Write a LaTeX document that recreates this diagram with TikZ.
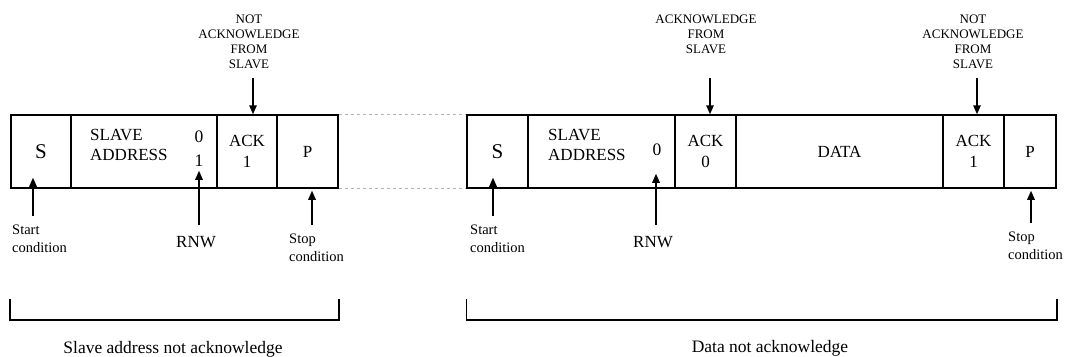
\documentclass[tikz,border=0pt]{standalone}
\usepackage{fontspec}
\setmainfont{Liberation Serif}
\usetikzlibrary{arrows.meta}

\begin{document}
\begin{tikzpicture}[x=1pt,y=-1pt,
field/.style={shape=rectangle,draw=black,line width=1.5pt,minimum height=73pt,inner sep=0,
    align=center,font=\fontsize{17}{21}\selectfont},
bigS/.style={font=\fontsize{21}{24}\selectfont},
addrText/.style={anchor=west,inner sep=0,align=left,font=\fontsize{17}{20}\selectfont},
bitText/.style={inner sep=0,align=center,font=\fontsize{17.5}{24}\selectfont},
topLbl/.style={anchor=north,inner sep=0,align=center,font=\fontsize{13}{15}\selectfont},
condLbl/.style={anchor=north west,inner sep=0,align=left,font=\fontsize{14.5}{18}\selectfont},
rnwLbl/.style={inner sep=0,font=\fontsize{17}{20}\selectfont},
capLbl/.style={anchor=base,inner sep=0,font=\fontsize{17.5}{20}\selectfont},
myarrow/.style={-{Triangle[length=9pt,width=7.5pt]},line width=1.5pt},
spanLine/.style={line width=1.5pt},
gapLine/.style={gray!60,dashed,line width=0.8pt}
]
\useasboundingbox (0,0) rectangle (1065,356);
% first frame
\node[field,bigS,minimum width=60pt] (fS1) at (41,151.5) {S};
\node[field,minimum width=146pt] (fAddr1) at (144,151.5) {};
\node[field,minimum width=60pt] (fAck1) at (247,151.5) {ACK\\1};
\node[field,minimum width=61pt] (fP1) at (307.5,151.5) {P};
\node[addrText] (addr1) at (90,145) {SLAVE\\ADDRESS};
\node[bitText] (bit1) at (199,149) {0\\1};
% second frame
\node[field,bigS,minimum width=61pt] (fS2) at (497.5,151.5) {S};
\node[field,minimum width=147pt] (fAddr2) at (601.5,151.5) {};
\node[field,minimum width=61pt] (fAck2) at (705.5,151.5) {ACK\\0};
\node[field,minimum width=207pt] (fData) at (839.5,151.5) {DATA};
\node[field,minimum width=61pt] (fAck3) at (973.5,151.5) {ACK\\1};
\node[field,minimum width=52pt] (fP2) at (1030,151.5) {P};
\node[addrText] (addr2) at (548,145) {SLAVE\\ADDRESS};
\node[bitText] (bit2) at (657,150) {0};
\draw[gapLine] (fP1.north east) -- (fS2.north west) (fP1.south east) -- (fS2.south west);
% labels above
\node[topLbl] (nak1) at (249,15) {NOT\\ACKNOWLEDGE\\FROM\\SLAVE};
\node[topLbl] (ak2) at (706,15) {ACKNOWLEDGE\\FROM\\SLAVE};
\node[topLbl] (nak3) at (973,15) {NOT\\ACKNOWLEDGE\\FROM\\SLAVE};
\coordinate (t1) at (253,78);
\coordinate (t2) at (710,78);
\coordinate (t3) at (977,78);
\draw[myarrow] (t1) -- (t1 |- fAck1.north);
\draw[myarrow] (t2) -- (t2 |- fAck2.north);
\draw[myarrow] (t3) -- (t3 |- fAck3.north);
% labels below
\node[condLbl] (start1) at (12,225) {Start\\condition};
\node[rnwLbl] (rnw1) at (196,242) {RNW};
\node[condLbl] (stop1) at (289,234) {Stop\\condition};
\node[condLbl] (start2) at (470,225) {Start\\condition};
\node[rnwLbl] (rnw2) at (653,242) {RNW};
\node[condLbl] (stop2) at (1008,232) {Stop\\condition};
\coordinate (b1) at (33,216);
\coordinate (b2) at (199,225);
\coordinate (b3) at (312,225);
\coordinate (b4) at (493,216);
\coordinate (b5) at (656,225);
\coordinate (b6) at (1031,223);
\draw[myarrow] (b1) -- ([yshift=11pt]fS1.south -| b1);
\draw[myarrow] (b2) -- ([yshift=18pt]fAddr1.south -| b2);
\draw[myarrow] (b3) -- ([yshift=-2pt]fP1.south -| b3);
\draw[myarrow] (b4) -- ([yshift=11pt]fS2.south -| b4);
\draw[myarrow] (b5) -- ([yshift=15pt]fAddr2.south -| b5);
\draw[myarrow] (b6) -- ([yshift=-2pt]fP2.south -| b6);
% spans
\draw[spanLine] (10,299) -- (10,320) -- (fP1.east |- 0,320) -- (fP1.east |- 0,299);
\draw[spanLine] (fS2.west |- 0,299) -- (fS2.west |- 0,320) -- (fP2.east |- 0,320) -- (fP2.east |- 0,299);
\node[capLbl] (cap1) at (173,353) {Slave address not acknowledge};
\node[capLbl] (cap2) at (770,352) {Data not acknowledge};
\end{tikzpicture}
\end{document}
